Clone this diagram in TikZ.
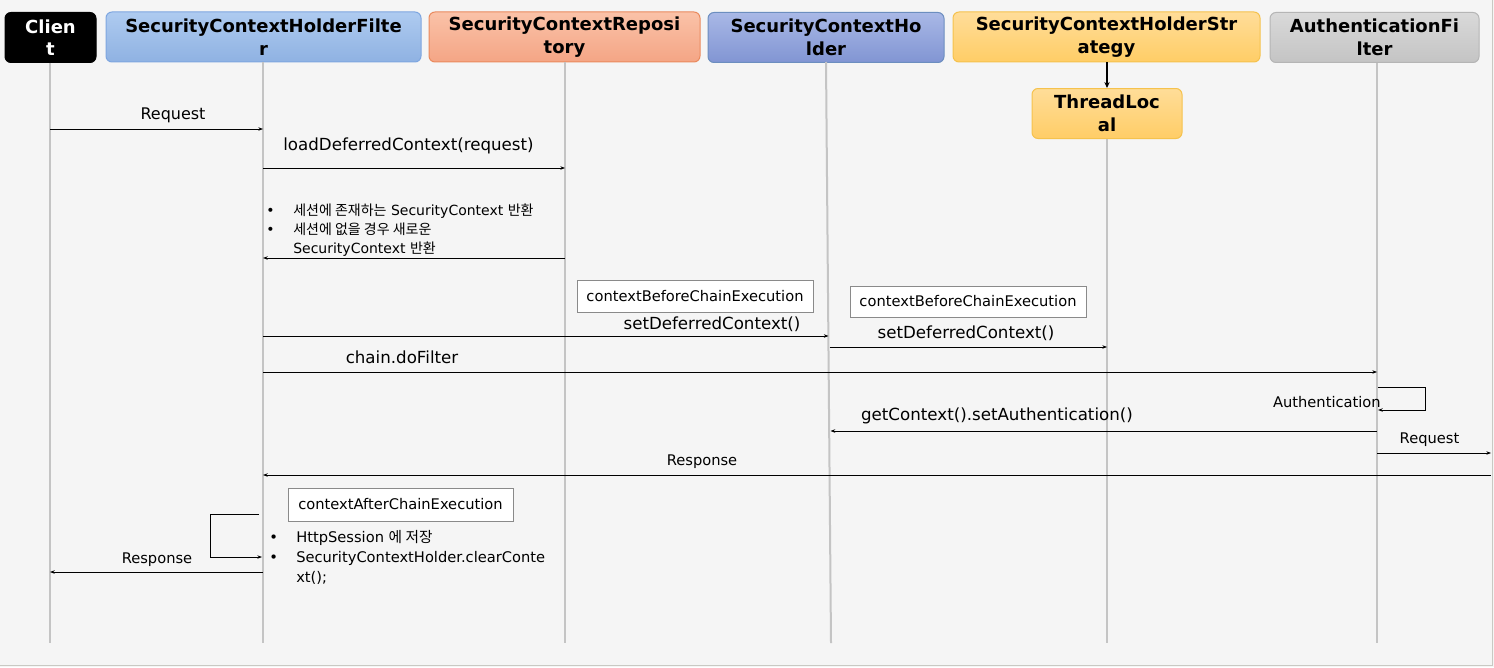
\documentclass[tikz,border=0pt]{standalone}
\usepackage{fontspec}
\setmainfont{DejaVu Sans}
\newfontfamily\kr{Noto Sans CJK KR}
\usetikzlibrary{arrows.meta}

\definecolor{bgcol}{HTML}{F5F5F5}
\definecolor{edgecol}{HTML}{C9C9C3}
\definecolor{lifecol}{HTML}{C4C4C4}
\definecolor{blueTop}{HTML}{AECBF0}
\definecolor{blueBot}{HTML}{8FB2E2}
\definecolor{blueLine}{HTML}{7EA6E0}
\definecolor{orgTop}{HTML}{FAC2A8}
\definecolor{orgBot}{HTML}{F4A585}
\definecolor{orgLine}{HTML}{EA8A5E}
\definecolor{navTop}{HTML}{A9B8E6}
\definecolor{navBot}{HTML}{8195D3}
\definecolor{navLine}{HTML}{6C8EBF}
\definecolor{ylwTop}{HTML}{FFDD99}
\definecolor{ylwBot}{HTML}{FFCD66}
\definecolor{ylwLine}{HTML}{F5C24D}
\definecolor{gryTop}{HTML}{D9D9D9}
\definecolor{gryBot}{HTML}{C4C4C4}
\definecolor{gryLine}{HTML}{B5B5B5}
\definecolor{boxLine}{HTML}{8A8A8A}

\begin{document}
\begin{tikzpicture}[x=0.75pt,y=-0.75pt,
  hdr/.style={rounded corners=4.5pt, line width=0.75pt, minimum height=37.5pt,
    align=center, inner sep=0pt, font=\fontsize{13.5}{17}\selectfont\bfseries},
  life/.style={draw=lifecol, line width=1.5pt},
  msg/.style={line width=0.75pt, -{Stealth[length=3.5pt,width=2.6pt]}},
  calltxt/.style={anchor=base, inner sep=0pt, font=\fontsize{12.5}{15}\selectfont},
  smalltxt/.style={anchor=base, inner sep=0pt, font=\fontsize{11}{13}\selectfont},
  notetxt/.style={anchor=base west, inner sep=0pt, font=\fontsize{10.5}{13}\selectfont},
  notebox/.style={draw=boxLine, fill=white, line width=0.75pt, inner sep=0pt,
    font=\fontsize{11}{13}\selectfont}]

% canvas
\useasboundingbox (0,0) rectangle (1494,667);
\fill[bgcol] (0,0) rectangle (1494,667);
\draw[edgecol, line width=1.2pt] (0,665.5) -- (1492.5,665.5) -- (1492.5,0);

% participants
\node[hdr, fill=black, draw=black, text=white, minimum width=68.25pt] (client) at (50.5,37.5) {Clien\\t};
\node[hdr, top color=blueTop, bottom color=blueBot, draw=blueLine, minimum width=236.25pt] (schf) at (263.5,37) {SecurityContextHolderFilte\\r};
\node[hdr, top color=orgTop, bottom color=orgBot, draw=orgLine, minimum width=203.25pt] (scr) at (564.5,37) {SecurityContextReposi\\tory};
\node[hdr, top color=navTop, bottom color=navBot, draw=navLine, minimum width=177pt] (sch) at (826,37.5) {SecurityContextHo\\lder};
\node[hdr, top color=ylwTop, bottom color=ylwBot, draw=ylwLine, minimum width=230.25pt] (schs) at (1106.5,37) {SecurityContextHolderStr\\ategy};
\node[hdr, top color=gryTop, bottom color=gryBot, draw=gryLine, minimum width=156.75pt] (auth) at (1374.5,37.5) {AuthenticationFi\\lter};
\node[hdr, top color=ylwTop, bottom color=ylwBot, draw=ylwLine, minimum width=112.5pt] (tl) at (1107,113.5) {ThreadLoc\\al};

\draw[line width=0.9pt, -{Stealth[length=4.5pt,width=4pt]}] (schs.south -| tl.north) -- (tl.north);

% lifelines
\coordinate (clientEnd) at (50,643);
\coordinate (schfEnd) at (263,643);
\coordinate (scrEnd) at (565,643);
\coordinate (schEnd) at (831,643);
\coordinate (tlEnd) at (1107,643);
\coordinate (authEnd) at (1377,643);
\draw[life] (client.south -| clientEnd) -- (clientEnd);
\draw[life] (schf.south -| schfEnd) -- (schfEnd);
\draw[life] (scr.south -| scrEnd) -- (scrEnd);
\draw[life] (826,62) -- (schEnd);
\draw[life] (tl.south) -- (tlEnd);
\draw[life] (auth.south -| authEnd) -- (authEnd);

% message end points
\coordinate (m1a) at (50,129);   \coordinate (m1b) at (263,129);
\coordinate (m2a) at (263,168);  \coordinate (m2b) at (565,168);
\coordinate (m3a) at (565,258);  \coordinate (m3b) at (263,258);
\coordinate (m4a) at (263,336);  \coordinate (m4b) at (828.5,336);
\coordinate (m5a) at (829.5,347);\coordinate (m5b) at (1107,347);
\coordinate (m6a) at (263,372);  \coordinate (m6b) at (1377,372);
\coordinate (l1a) at (1378,387); \coordinate (l1b) at (1425,387);
\coordinate (l1c) at (1425,410); \coordinate (l1d) at (1378,410);
\coordinate (m7a) at (1377,431); \coordinate (m7b) at (830.5,431);
\coordinate (m8a) at (1377,453); \coordinate (m8b) at (1491,453);
\coordinate (m9a) at (1491,475); \coordinate (m9b) at (263,475);
\coordinate (l2a) at (259,514);  \coordinate (l2b) at (210,514);
\coordinate (l2c) at (210,557);  \coordinate (l2d) at (262,557);
\coordinate (m10a) at (263,572); \coordinate (m10b) at (50,572);

% messages
\draw[msg] (m1a) -- (m1b);
\node[calltxt, font=\fontsize{12}{14}\selectfont] (t1) at (173,119) {Request};
\draw[msg] (m2a) -- (m2b);
\node[calltxt] (t2) at (408.5,150) {loadDeferredContext(request)};
\draw[msg] (m3a) -- (m3b);
\node[notetxt] (b1) at (266,215) {•};
\node[notetxt] (n1) at (293,215) {{\kr 세션에 존재하는} SecurityContext {\kr 반환}};
\node[notetxt] (b2) at (266,234) {•};
\node[notetxt] (n2) at (293,234) {\kr 세션에 없을 경우 새로운};
\node[notetxt] (n3) at (293,253) {SecurityContext {\kr 반환}};

\node[notebox, minimum width=177pt, minimum height=24pt] (cb1) at (695,296) {contextBeforeChainExecution};
\node[calltxt] (t4) at (712,329) {setDeferredContext()};
\draw[msg] (m4a) -- (m4b);
\node[notebox, minimum width=177pt, minimum height=23.25pt] (cb2) at (968,301.5) {contextBeforeChainExecution};
\node[calltxt] (t5) at (966,338) {setDeferredContext()};
\draw[msg] (m5a) -- (m5b);

\node[calltxt] (t6) at (402,363) {chain.doFilter};
\draw[msg] (m6a) -- (m6b);

\draw[msg] (l1a) -- (l1b) -- (l1c) -- (l1d);
\node[smalltxt, anchor=base east] (t7) at (1381,407) {Authentication};

\draw[msg] (m7a) -- (m7b);
\node[calltxt] (t8) at (997,420) {getContext().setAuthentication()};

\draw[msg] (m8a) -- (m8b);
\node[smalltxt] (t9) at (1429.5,443) {Request};
\draw[msg] (m9a) -- (m9b);
\node[smalltxt] (t10) at (702,465) {Response};

\node[notebox, minimum width=168.75pt, minimum height=24.75pt] (ca) at (400.5,504.5) {contextAfterChainExecution};
\draw[msg] (l2a) -- (l2b) -- (l2c) -- (l2d);
\node[notetxt, font=\fontsize{11}{13}\selectfont] (b3) at (269,542) {•};
\node[notetxt, font=\fontsize{11}{13}\selectfont] (n4) at (296,542) {HttpSession {\kr 에 저장}};
\node[notetxt, font=\fontsize{11}{13}\selectfont] (b4) at (269,562) {•};
\node[notetxt, font=\fontsize{11}{13}\selectfont] (n5) at (296,562) {SecurityContextHolder.clearConte};
\node[notetxt, font=\fontsize{11}{13}\selectfont] (n6) at (296,582) {xt();};

\draw[msg] (m10a) -- (m10b);
\node[smalltxt] (t11) at (157,563) {Response};

\end{tikzpicture}
\end{document}
